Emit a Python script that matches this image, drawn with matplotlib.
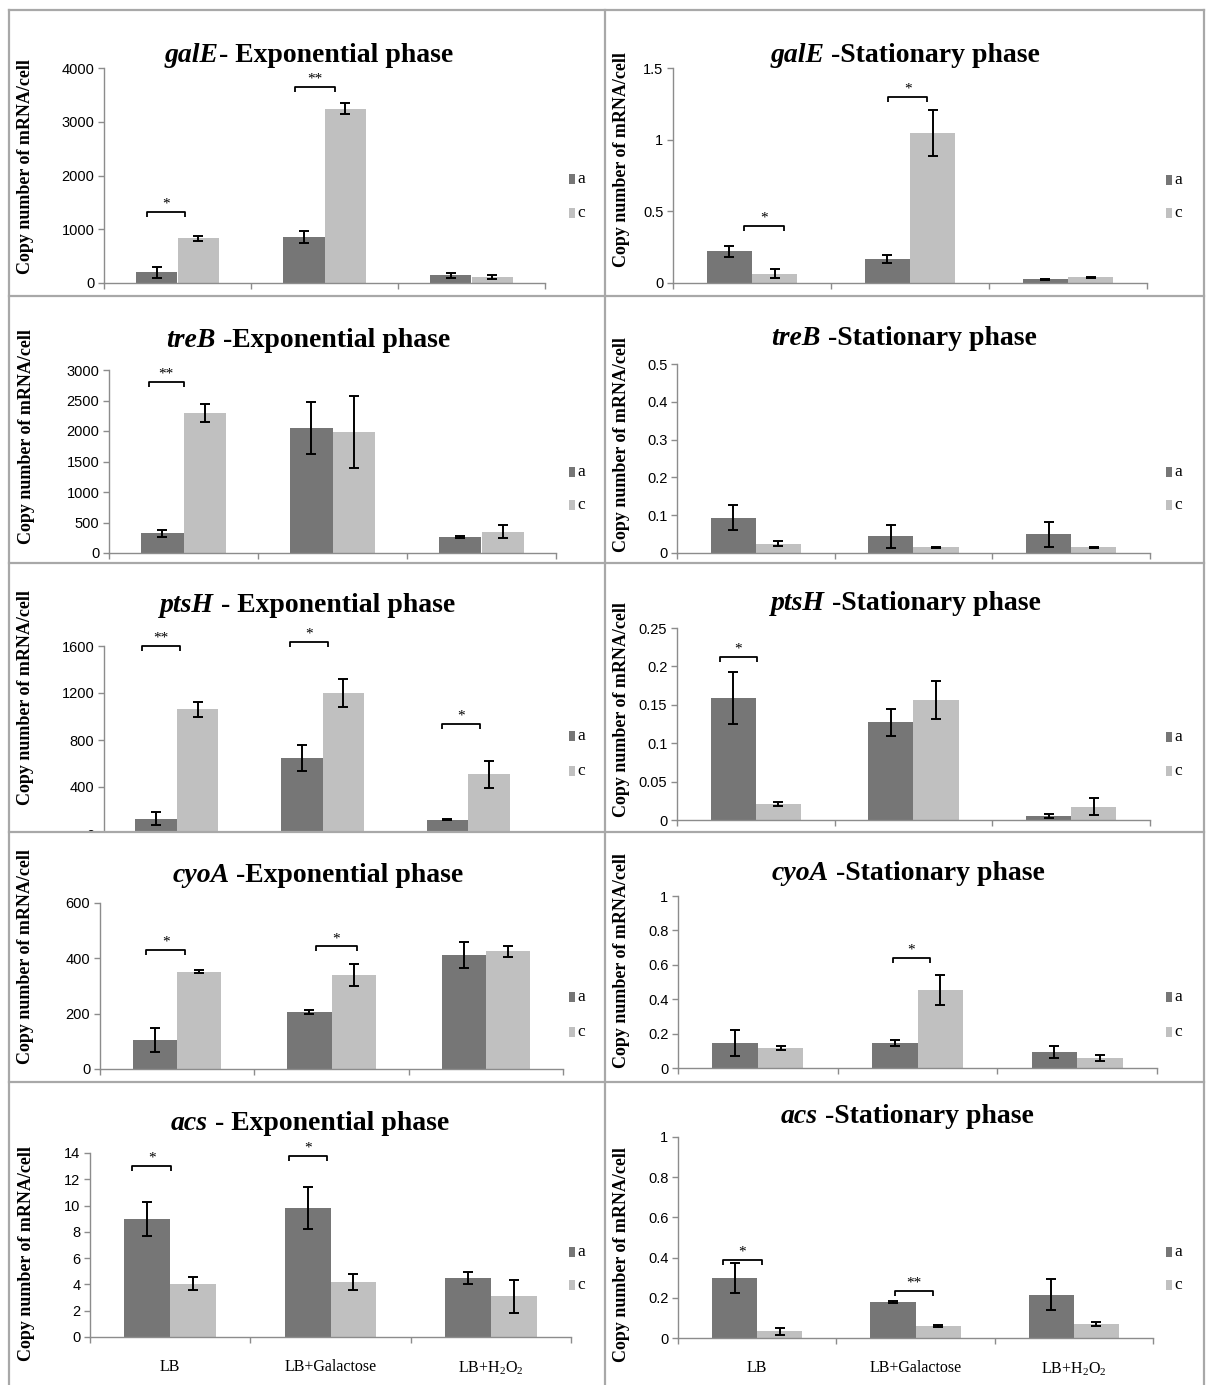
import matplotlib
matplotlib.use("Agg")
import matplotlib.pyplot as plt
from matplotlib.patches import Rectangle
from matplotlib.lines import Line2D
import numpy as np

plt.rcParams['font.family'] = ['Liberation Serif', 'DejaVu Serif']
plt.rcParams['mathtext.fontset'] = 'custom'
plt.rcParams['mathtext.rm'] = 'Liberation Serif'
plt.rcParams['mathtext.it'] = 'Liberation Serif:italic'
plt.rcParams['mathtext.bf'] = 'Liberation Serif:bold'

W, H, DPI = 1208, 1385, 100

# ---------------- data ----------------
categories = ["LB", "LB+Galactose", "LB+H$_2$O$_2$"]
series_labels = ["a", "c"]

galE_exp_a = [200, 860, 140];        galE_exp_a_err = [100, 115, 40]
galE_exp_c = [830, 3240, 110];       galE_exp_c_err = [50, 100, 30]
galE_sta_a = [0.22, 0.17, 0.026];    galE_sta_a_err = [0.04, 0.028, 0.004]
galE_sta_c = [0.065, 1.045, 0.04];   galE_sta_c_err = [0.033, 0.162, 0.003]

treB_exp_a = [320, 2050, 260];       treB_exp_a_err = [60, 420, 15]
treB_exp_c = [2290, 1980, 350];      treB_exp_c_err = [150, 590, 110]
treB_sta_a = [0.093, 0.044, 0.049];  treB_sta_a_err = [0.033, 0.030, 0.034]
treB_sta_c = [0.025, 0.015, 0.015];  treB_sta_c_err = [0.007, 0.001, 0.001]

ptsH_exp_a = [130, 650, 120];        ptsH_exp_a_err = [55, 110, 5]
ptsH_exp_c = [1060, 1200, 510];      ptsH_exp_c_err = [65, 115, 115]
ptsH_sta_a = [0.159, 0.127, 0.005];  ptsH_sta_a_err = [0.034, 0.017, 0.003]
ptsH_sta_c = [0.021, 0.156, 0.017];  ptsH_sta_c_err = [0.003, 0.025, 0.011]

cyoA_exp_a = [106, 206, 412];        cyoA_exp_a_err = [43, 8, 46]
cyoA_exp_c = [352, 339, 425];        cyoA_exp_c_err = [5, 40, 21]
cyoA_sta_a = [0.147, 0.145, 0.093];  cyoA_sta_a_err = [0.075, 0.015, 0.035]
cyoA_sta_c = [0.116, 0.456, 0.06];   cyoA_sta_c_err = [0.01, 0.087, 0.017]

acs_exp_a = [9.0, 9.8, 4.5];         acs_exp_a_err = [1.3, 1.62, 0.48]
acs_exp_c = [4.05, 4.2, 3.1];        acs_exp_c_err = [0.48, 0.63, 1.26]
acs_sta_a = [0.298, 0.18, 0.215];    acs_sta_a_err = [0.074, 0.005, 0.078]
acs_sta_c = [0.033, 0.06, 0.07];     acs_sta_c_err = [0.016, 0.003, 0.01]

# significance brackets: (category, start frac, end frac, y value, label)
galE_exp_sig = [(0, 0.29, 0.55, 1320, "*"), (1, 0.30, 0.57, 3645, "**")]
galE_sta_sig = [(0, 0.45, 0.70, 0.40, "*"), (1, 0.36, 0.61, 1.295, "*")]
treB_exp_sig = [(0, 0.27, 0.50, 2808, "**")]
treB_sta_sig = []
ptsH_exp_sig = [(0, 0.26, 0.52, 1597, "**"), (1, 0.28, 0.54, 1631, "*"), (2, 0.32, 0.58, 940, "*")]
ptsH_sta_sig = [(0, 0.27, 0.51, 0.212, "*")]
cyoA_exp_sig = [(0, 0.30, 0.55, 429, "*"), (1, 0.40, 0.665, 443, "*")]
cyoA_sta_sig = [(1, 0.345, 0.58, 0.64, "*")]
acs_exp_sig = [(0, 0.265, 0.505, 13.04, "*"), (1, 0.24, 0.48, 13.8, "*")]
acs_sta_sig = [(0, 0.285, 0.53, 0.388, "*"), (1, 0.37, 0.61, 0.236, "**")]

# ---------------- layout (pixels) ----------------
panels = [
    dict(gene="galE", rest="- Exponential phase", a=galE_exp_a, ae=galE_exp_a_err, c=galE_exp_c, ce=galE_exp_c_err,
         sig=galE_exp_sig, ymax=4000, step=1000, box=(104, 545, 283, 68), tb=62, tx=309, ly=(179, 213), yl=(25, 167)),
    dict(gene="galE", rest=" -Stationary phase", a=galE_sta_a, ae=galE_sta_a_err, c=galE_sta_c, ce=galE_sta_c_err,
         sig=galE_sta_sig, ymax=1.5, step=0.5, box=(673, 1147, 283, 68), tb=62, tx=905, ly=(180, 213), yl=(622, 160)),
    dict(gene="treB", rest=" -Exponential phase", a=treB_exp_a, ae=treB_exp_a_err, c=treB_exp_c, ce=treB_exp_c_err,
         sig=treB_exp_sig, ymax=3000, step=500, box=(109, 556, 553, 370), tb=347, tx=308, ly=(472, 505), yl=(27, 437)),
    dict(gene="treB", rest=" -Stationary phase", a=treB_sta_a, ae=treB_sta_a_err, c=treB_sta_c, ce=treB_sta_c_err,
         sig=treB_sta_sig, ymax=0.5, step=0.1, box=(677, 1150, 553, 364), tb=345, tx=904, ly=(472, 505), yl=(622, 445)),
    dict(gene="ptsH", rest=" - Exponential phase", a=ptsH_exp_a, ae=ptsH_exp_a_err, c=ptsH_exp_c, ce=ptsH_exp_c_err,
         sig=ptsH_exp_sig, ymax=1600, step=400, box=(104, 541, 834, 646), tb=612, tx=308, ly=(736, 771), yl=(25, 698)),
    dict(gene="ptsH", rest=" -Stationary phase", a=ptsH_sta_a, ae=ptsH_sta_a_err, c=ptsH_sta_c, ce=ptsH_sta_c_err,
         sig=ptsH_sta_sig, ymax=0.25, step=0.05, box=(677, 1150, 820, 628), tb=610, tx=906, ly=(737, 771), yl=(622, 710)),
    dict(gene="cyoA", rest=" -Exponential phase", a=cyoA_exp_a, ae=cyoA_exp_a_err, c=cyoA_exp_c, ce=cyoA_exp_c_err,
         sig=cyoA_exp_sig, ymax=600, step=200, box=(100, 563, 1069, 903), tb=882, tx=318, ly=(997, 1032), yl=(25, 957)),
    dict(gene="cyoA", rest=" -Stationary phase", a=cyoA_sta_a, ae=cyoA_sta_a_err, c=cyoA_sta_c, ce=cyoA_sta_c_err,
         sig=cyoA_sta_sig, ymax=1.0, step=0.2, box=(678, 1157, 1068, 896), tb=880, tx=908, ly=(997, 1032), yl=(622, 961)),
    dict(gene="acs", rest=" - Exponential phase", a=acs_exp_a, ae=acs_exp_a_err, c=acs_exp_c, ce=acs_exp_c_err,
         sig=acs_exp_sig, ymax=14, step=2, box=(90, 571, 1337, 1153), tb=1130, tx=310, ly=(1252, 1285), yl=(27, 1254)),
    dict(gene="acs", rest=" -Stationary phase", a=acs_sta_a, ae=acs_sta_a_err, c=acs_sta_c, ce=acs_sta_c_err,
         sig=acs_sta_sig, ymax=1.0, step=0.2, box=(678, 1153, 1338, 1137), tb=1123, tx=907, ly=(1252, 1285), yl=(622, 1255)),
]

DARK = "#767676"
LIGHT = "#c0c0c0"
AXC = "#8c8c8c"
BORDER = "#a8a8a8"

fig = plt.figure(figsize=(W / DPI, H / DPI), dpi=DPI)
fig.patch.set_facecolor("white")
renderer = fig.canvas.get_renderer()

def fx(px):
    return px / W

def fy(py):
    return 1 - py / H

def fmt(v):
    s = f"{v:.2f}".rstrip("0").rstrip(".")
    return s

bw = 0.2857
xc = np.arange(len(categories)) + 0.5

for i, p in enumerate(panels):
    l, r, y0, yt = p["box"]
    ax = fig.add_axes([fx(l), fy(y0), (r - l) / W, (y0 - yt) / H])
    ax.set_xlim(0, 3)
    ax.set_ylim(0, p["ymax"])
    ek = dict(ecolor="black", elinewidth=1.4, capsize=3.5, capthick=1.4)
    ax.bar(xc - bw / 2, p["a"], bw, yerr=p["ae"], color=DARK, error_kw=ek, label=series_labels[0], zorder=2)
    ax.bar(xc + bw / 2, p["c"], bw, yerr=p["ce"], color=LIGHT, error_kw=ek, label=series_labels[1], zorder=2)

    for s in ["top", "right"]:
        ax.spines[s].set_visible(False)
    for s in ["left", "bottom"]:
        ax.spines[s].set_color(AXC)
        ax.spines[s].set_linewidth(1.0)
    yt_vals = np.arange(0, p["ymax"] + p["step"] / 2, p["step"])
    ax.set_yticks(yt_vals)
    ax.set_yticklabels([fmt(v) for v in yt_vals], fontfamily="Liberation Sans", fontsize=10.5)
    ax.set_xticks([0, 1, 2, 3])
    ax.set_xticklabels([])
    ax.tick_params(axis="both", which="major", color=AXC, length=4, width=1.0, direction="out")
    ax.tick_params(axis="y", pad=3)
    if i >= 8:
        ax.set_xticks(xc, minor=True)
        ax.set_xticklabels(categories, minor=True, fontsize=11.5)
        ax.tick_params(axis="x", which="minor", length=0, pad=16)

    # significance brackets
    px_per_unit = (y0 - yt) / p["ymax"]
    drop = 5 / px_per_unit
    for cat, s0, s1, yv, lab in p["sig"]:
        x0, x1 = cat + s0, cat + s1
        ax.plot([x0, x0, x1, x1], [yv - drop, yv, yv, yv - drop], color="black", lw=1.3, zorder=3,
                solid_capstyle="butt", clip_on=False)
        ax.annotate(lab, ((x0 + x1) / 2, yv), xytext=(0, 1), textcoords="offset points",
                    ha="center", va="bottom", fontsize=11, annotation_clip=False)

    # title (italic gene + rest)
    t1 = fig.text(0, 0, p["gene"], fontsize=20, fontweight="bold", fontstyle="italic", ha="left", va="baseline")
    t2 = fig.text(0, 0, p["rest"], fontsize=20, fontweight="bold", ha="left", va="baseline")
    w1 = t1.get_window_extent(renderer).width
    w2 = t2.get_window_extent(renderer).width
    xs = p["tx"] - (w1 + w2) / 2
    t1.set_position((fx(xs), fy(p["tb"])))
    t2.set_position((fx(xs + w1), fy(p["tb"])))

    # y label
    fig.text(fx(p["yl"][0]), fy(p["yl"][1]), "Copy number of mRNA/cell", rotation=90, ha="center", va="center",
             fontsize=13, fontweight="bold")

    # legend
    mx = 569 if l < 600 else 1166
    for k, (lab, col) in enumerate(zip(series_labels, [DARK, LIGHT])):
        yy = p["ly"][k]
        fig.add_artist(Rectangle((fx(mx), fy(yy + 5)), 6 / W, 10 / H, transform=fig.transFigure,
                                 facecolor=col, edgecolor="none"))
        fig.text(fx(mx + 8), fy(yy), lab, ha="left", va="center", fontsize=12.5)

# white cover below ptsH exponential panel (its axis is cut at the border)
fig.add_artist(Rectangle((fx(10), fy(848)), (605 - 10) / W, (848 - 832) / H, transform=fig.transFigure,
                         facecolor="white", edgecolor="none", zorder=5))

# panel borders
for yy in [10, 296, 563, 832, 1082]:
    fig.add_artist(Line2D([fx(9), fx(1204)], [fy(yy), fy(yy)], color=BORDER, lw=1.6, zorder=6))
for xx in [9, 605, 1204]:
    fig.add_artist(Line2D([fx(xx), fx(xx)], [fy(10), fy(1385)], color=BORDER, lw=1.6, zorder=6))

fig.savefig("out.png", dpi=DPI, facecolor="white")
